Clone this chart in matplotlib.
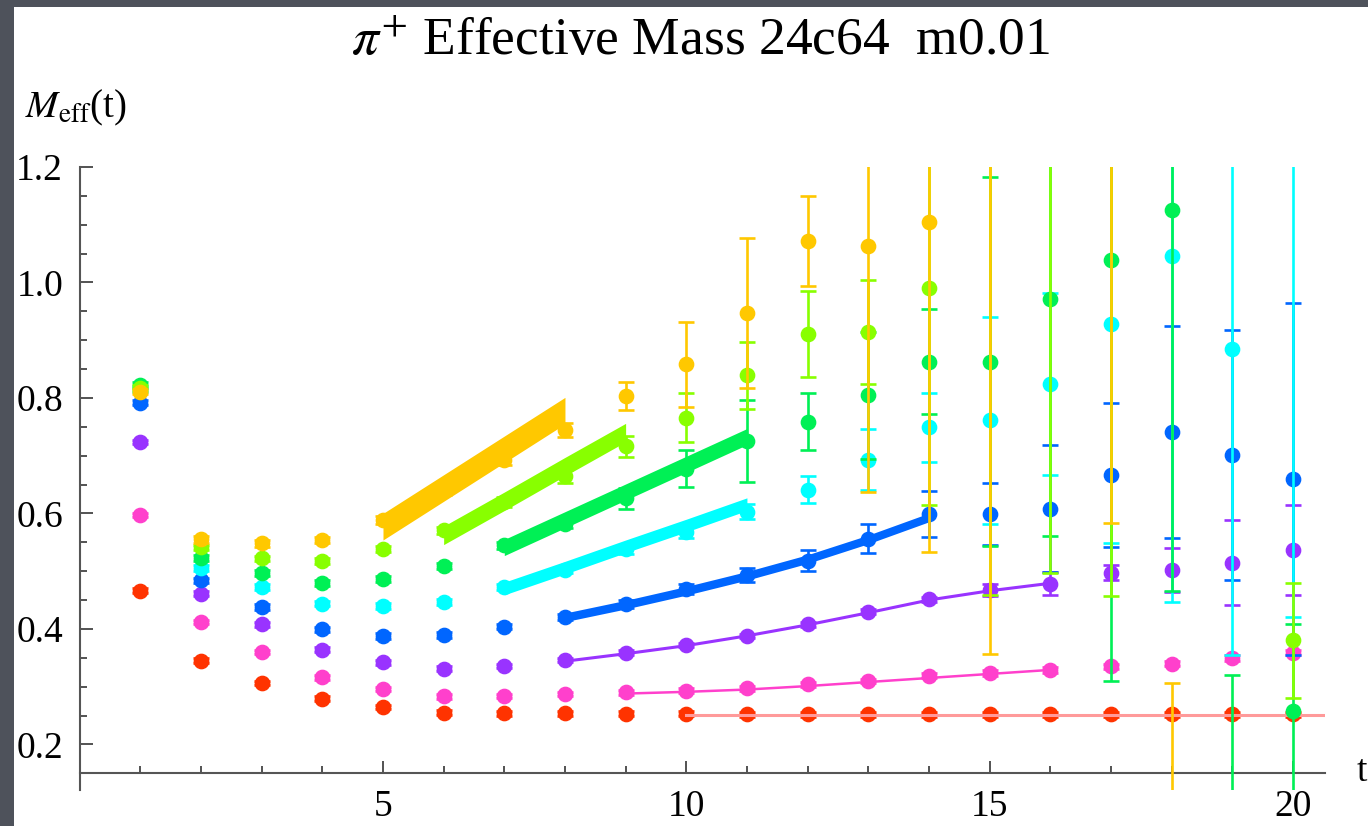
import numpy as np
import matplotlib.pyplot as plt
from matplotlib.patches import Rectangle
from matplotlib.ticker import FixedLocator, MultipleLocator, FormatStrFormatter

plt.rcParams['font.family'] = ['Liberation Serif', 'DejaVu Serif']
plt.rcParams['mathtext.fontset'] = 'stix'

nan = np.nan
t = np.arange(1, 21)

# effective mass per source, t = 1..20 (nan = not defined)
m_red = [0.466, 0.345, 0.306, 0.279, 0.265, 0.255, 0.254, 0.254, 0.253, 0.253,
         0.252, 0.252, 0.252, 0.252, 0.252, 0.252, 0.252, 0.252, 0.252, 0.252]
e_red = [0.004] * 20

m_pink = [0.597, 0.412, 0.360, 0.316, 0.296, 0.283, 0.284, 0.287, 0.290, 0.293,
          0.297, 0.304, 0.310, 0.319, 0.323, 0.329, 0.335, 0.340, 0.349, 0.359]
e_pink = [0.004] * 14 + [0.005] * 6

m_purple = [0.724, 0.461, 0.408, 0.364, 0.342, 0.331, 0.336, 0.346, 0.359, 0.372,
            0.388, 0.408, 0.430, 0.451, 0.467, 0.478, 0.497, 0.502, 0.515, 0.536]
e_purple = [0.004] * 14 + [0.010, 0.020, 0.013, 0.038, 0.073, 0.078]

m_blue = [0.792, 0.484, 0.438, 0.399, 0.388, 0.389, 0.404, 0.420, 0.443, 0.469,
          0.494, 0.518, 0.556, 0.599, 0.599, 0.608, 0.667, 0.741, 0.701, 0.660]
e_blue = [0.005] * 8 + [0.007, 0.009, 0.012, 0.018, 0.025, 0.040, 0.053, 0.110,
                        0.125, 0.183, 0.217, 0.305]

m_cyan = [0.815, 0.505, 0.472, 0.444, 0.440, 0.447, 0.472, 0.502, 0.538, 0.568,
          0.603, 0.641, 0.693, 0.749, 0.761, 0.824, 0.928, 1.046, 0.885, 1.300]
e_cyan = [0.005] * 7 + [0.006, 0.008, 0.010, 0.013, 0.023, 0.053, 0.060, 0.180,
                        0.157, 0.380, 0.600, 0.530, 0.880]

m_green = [0.822, 0.523, 0.497, 0.479, 0.487, 0.509, 0.545, 0.582, 0.626, 0.677,
           0.726, 0.759, 0.805, 0.863, 0.863, 0.971, 1.039, 1.126, 0.050, 0.257]
e_green = [0.005] * 6 + [0.006, 0.008, 0.018, 0.032, 0.071, 0.050, 0.110, 0.091,
                         0.320, 0.410, 0.730, 0.660, 0.271, 0.151]

m_lime = [0.817, 0.541, 0.522, 0.518, 0.539, 0.571, 0.620, 0.664, 0.716, 0.766,
          0.839, 0.911, 0.915, 0.991, 1.300, 1.320, 1.400, nan, nan, 0.380]
e_lime = [0.005] * 5 + [0.006, 0.008, 0.012, 0.018, 0.043, 0.058, 0.075, 0.090,
                        0.377, 0.841, 0.824, 0.943, nan, nan, 0.099]

m_gold = [0.811, 0.555, 0.548, 0.554, 0.589, 0.640, 0.693, 0.745, 0.803, 0.858,
          0.947, 1.072, 1.063, 1.104, 1.300, nan, 1.350, 0.050, nan, nan]
e_gold = [0.005, 0.006, 0.006, 0.006, 0.007, 0.008, 0.009, 0.012, 0.024, 0.074,
          0.130, 0.078, 0.426, 0.570, 0.943, nan, 0.766, 0.256, nan, nan]

# fit curves: time range, central value, half width of band (0 -> plain line)
fit_red_t, fit_red = [10, 21], [0.251, 0.251]
fit_pink_t = list(range(9, 17))
fit_pink = [0.288, 0.291, 0.295, 0.301, 0.308, 0.315, 0.322, 0.329]
fit_purple_t = list(range(8, 17))
fit_purple = [0.344, 0.357, 0.371, 0.388, 0.407, 0.428, 0.450, 0.466, 0.479]
fit_blue_t = list(range(8, 15))
fit_blue = [0.420, 0.442, 0.466, 0.492, 0.521, 0.555, 0.593]
fit_cyan_t = list(range(7, 12))
fit_cyan = [0.470, 0.506, 0.543, 0.579, 0.616]
fit_green_t = list(range(7, 12))
fit_green = [0.541, 0.589, 0.637, 0.685, 0.733]
fit_lime_t = list(range(6, 10))
fit_lime = [0.562, 0.621, 0.681, 0.740]
fit_gold_t = list(range(5, 9))
fit_gold = [0.577, 0.644, 0.711, 0.778]

series = [
    (m_red, e_red, '#ff3300', fit_red_t, fit_red, 0, '#ff9a9a', 2.2),
    (m_pink, e_pink, '#ff40cc', fit_pink_t, fit_pink, 0, '#ff40cc', 1.8),
    (m_purple, e_purple, '#9933ff', fit_purple_t, fit_purple, 0, '#9933ff', 2.2),
    (m_blue, e_blue, '#0066ff', fit_blue_t, fit_blue, 0.0075, '#0066ff', 0),
    (m_cyan, e_cyan, '#00ffff', fit_cyan_t, fit_cyan, 0.011, '#00ffff', 0),
    (m_green, e_green, '#00f055', fit_green_t, fit_green, 0.014, '#00f055', 0),
    (m_lime, e_lime, '#88ff00', fit_lime_t, fit_lime, 0.016, '#88ff00', 0),
    (m_gold, e_gold, '#ffc800', fit_gold_t, fit_gold, 0.023, '#ffc800', 0),
]

fig = plt.figure(figsize=(13.68, 8.26), dpi=100, facecolor='#4e525b')
fig.add_artist(Rectangle((14 / 1368, 0), 1, 819 / 826, transform=fig.transFigure,
                         facecolor='white', edgecolor='none', zorder=-5))

ax = fig.add_axes([79.7 / 1368, 36 / 826, (1325 - 79.7) / 1368, 623 / 826])
ax.set_facecolor('none')

z = 2
for m, e, c, ft, fc, fh, lc, lw in series:
    ax.errorbar(t, m, yerr=e, fmt='o', color=c, ms=10.3,
                elinewidth=1.9, capsize=5.8, capthick=1.9, zorder=z)
    fc = np.array(fc)
    if fh > 0:
        ax.fill_between(ft, fc - fh, fc + fh, color=lc, lw=0, zorder=z + 0.5)
    else:
        ax.plot(ft, fc, color=lc, lw=lw, zorder=z + 0.5)
    z += 1

ax.set_xlim(0, 20.53)
ax.set_ylim(0.121, 1.2)

for s in ['top', 'right']:
    ax.spines[s].set_visible(False)
ax.spines['bottom'].set_position(('data', 0.15))
for s in ['bottom', 'left']:
    ax.spines[s].set_color('#555555')
    ax.spines[s].set_linewidth(1.5)

ax.xaxis.set_major_locator(FixedLocator([5, 10, 15, 20]))
ax.xaxis.set_minor_locator(MultipleLocator(1))
ax.yaxis.set_major_locator(FixedLocator([0.2, 0.4, 0.6, 0.8, 1.0, 1.2]))
ax.yaxis.set_minor_locator(MultipleLocator(0.05))
ax.xaxis.set_major_formatter(FormatStrFormatter('%d'))
ax.yaxis.set_major_formatter(FormatStrFormatter('%.1f'))
ax.tick_params(which='both', direction='in', color='#444444', width=1.3,
               labelsize=27, labelcolor='black')
ax.tick_params(axis='x', which='major', length=9, pad=12)
ax.tick_params(axis='x', which='minor', length=5)
ax.tick_params(axis='y', which='major', length=9, pad=12)
ax.tick_params(axis='y', which='minor', length=5)

fig.text(0.512, (826 - 42) / 826, r'$\pi^{+}$ Effective Mass 24c64  m0.01',
         ha='center', va='center', fontsize=38.5)
fig.text(25 / 1368, (826 - 108) / 826, r'$M_{\mathrm{eff}}$(t)',
         ha='left', va='center', fontsize=28)
fig.text(1357 / 1368, (826 - 772) / 826, 't', ha='left', va='center', fontsize=27)

fig.savefig('out.png', dpi=100, facecolor=fig.get_facecolor())
